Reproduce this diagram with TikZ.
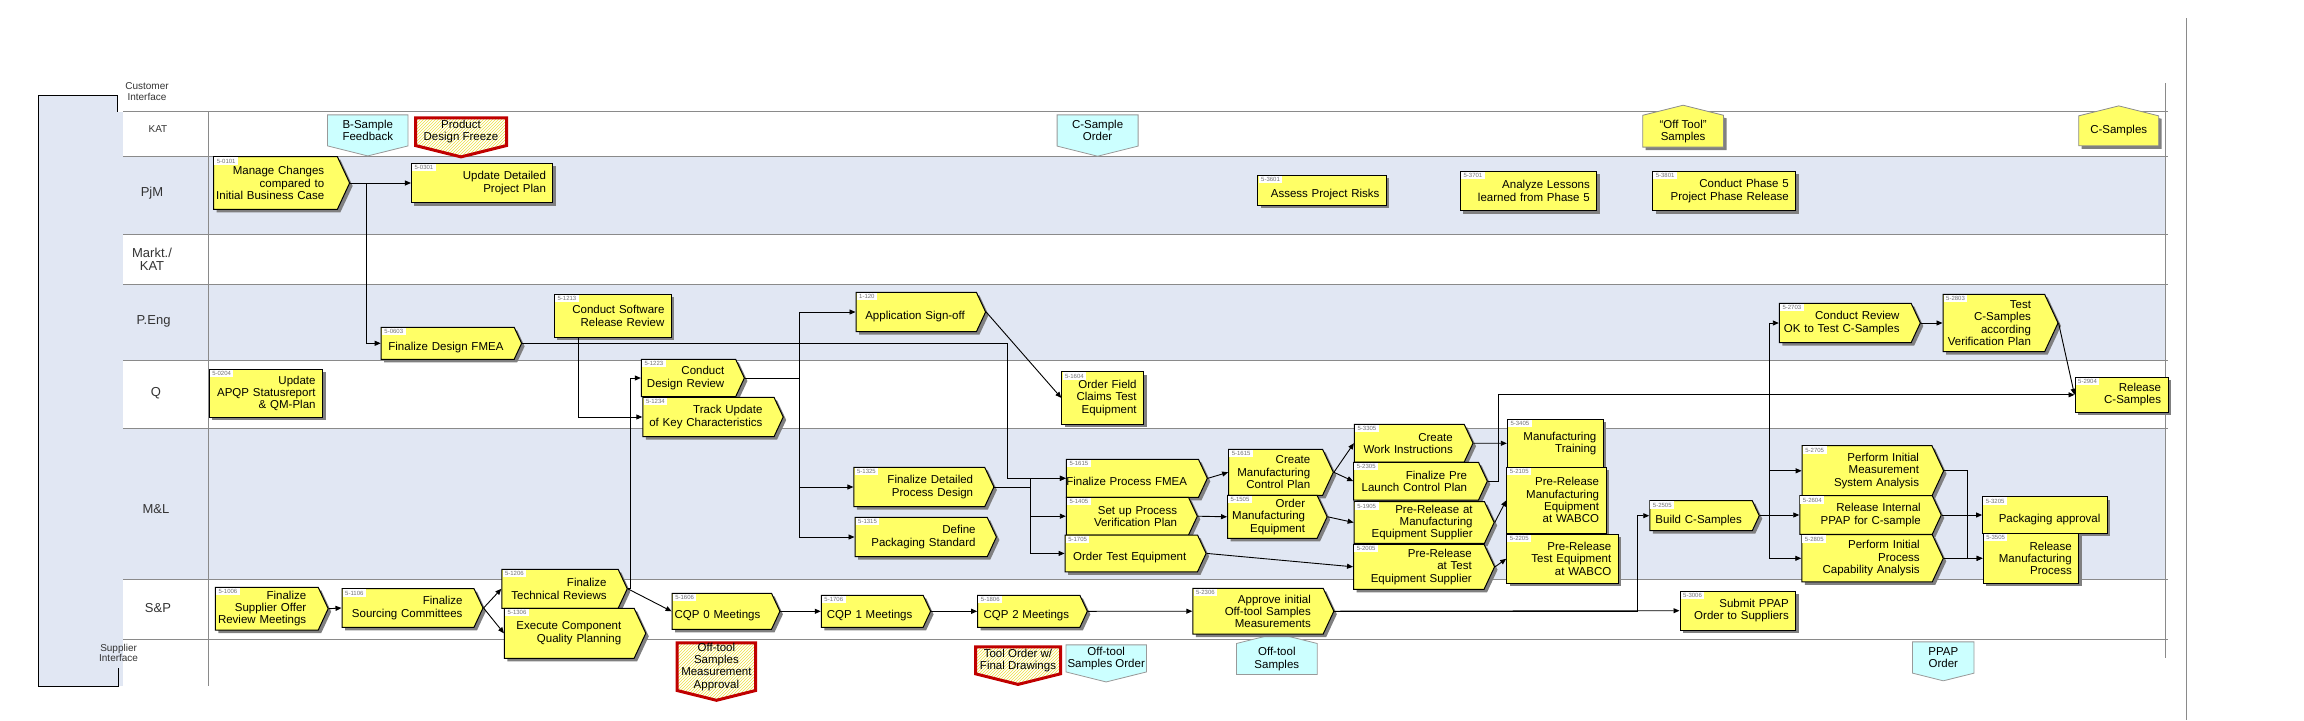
\documentclass[tikz,border=0pt]{standalone}
\usepackage{fontspec}
\setmainfont{Liberation Sans}
\usetikzlibrary{shapes.symbols,shadows,patterns,arrows.meta}

\definecolor{laneblue}{HTML}{E1E7F3}
\definecolor{taskyellow}{HTML}{FFFF66}
\definecolor{mscyan}{HTML}{CCFFFF}
\definecolor{msred}{HTML}{C00000}
\definecolor{laneline}{HTML}{8A8A8A}
\definecolor{hatch}{HTML}{EEE040}

\begin{document}
\begin{tikzpicture}[x=1pt, y=-1pt,
  box/.style={draw=black, line width=1pt, fill=taskyellow, inner sep=0pt, align=right,
    font=\fontsize{11.5}{12.3}\selectfont,
    execute at begin node={\leftskip=0pt plus 1fil minus 80pt\hyphenpenalty=10000},
    drop shadow={opacity=1, fill=black!50, shadow xshift=3pt, shadow yshift=-3pt}},
  sig/.style 2 args={box, shape=signal, signal to=east, signal pointer angle=130,
    minimum width=#1, minimum height=#2,
    /utils/exec={\pgfmathsetlengthmacro\tw{#1-#2/2.145-14}}, text width=\tw},
  rct/.style 2 args={box, rectangle, minimum width=#1, minimum height=#2,
    /utils/exec={\pgfmathsetlengthmacro\tw{#1-14}}, text width=\tw},
  one/.style={text height=15pt, text depth=0pt},
  ctr/.style={align=center, execute at begin node={\hyphenpenalty=10000}},
  id/.style={append after command={node[idtag] at (\tikzlastnode.west |- \tikzlastnode.north) {#1}}},
  idtag/.style={anchor=north west, fill=white, inner xsep=2.5pt, inner ysep=1.5pt,
    xshift=1pt, yshift=-1pt, text=black!55, font=\fontsize{6}{6}\selectfont},
  ms/.style 2 args={shape=signal, signal pointer angle=152, minimum width=#1, minimum height=#2,
    inner sep=0pt, align=center, font=\fontsize{11.5}{12.3}\selectfont},
  mscyanbox/.style={draw=black!40, line width=0.8pt, fill=mscyan},
  msredbox/.style={draw=msred, line width=3pt, preaction={fill=white}, pattern=north east lines, pattern color=hatch},
  msyelbox/.style={draw=black!45, line width=0.8pt, fill=taskyellow,
    drop shadow={opacity=1, fill=black!50, shadow xshift=3pt, shadow yshift=-3pt}},
  down/.style={signal to=south}, up/.style={signal to=north},
  arr/.style={draw, line width=0.9pt, -{Triangle[length=6pt,width=5pt]}},
  lane/.style={font=\fontsize{13}{13}\selectfont, text=black!80, align=center},
  iface/.style={font=\fontsize{10}{10.5}\selectfont, text=black!80, align=center}]
\useasboundingbox (0,0) rectangle (2304,720);

% frame and lanes
\fill[laneblue] (38,95) rectangle (117,112);
\fill[laneblue] (38,112) rectangle (123,686);
\draw[line width=1pt] (117,111.7) -- (117,95) -- (38,95) -- (38,686) -- (118,686) -- (118,668);
\fill[laneblue] (123,156.7) rectangle (2165,234);
\fill[laneblue] (123,284.3) rectangle (2165,360);
\fill[laneblue] (123,428.3) rectangle (2165,579.3);
\foreach \y in {111.7,156.7,234,284.3,360,428.3,579.3,639}
  \draw[laneline, line width=1pt] (123,\y) -- (2168,\y);
\draw[laneline, line width=1pt] (208,111.7) -- (208,686);
\draw[laneline, line width=1pt] (2165,83.3) -- (2165,658);
\draw[laneline, line width=1pt] (2186,18) -- (2186,720);

% lane labels
\node[iface] (lcust) at (147,91.7) {Customer\\Interface};
\node[iface] (lkat) at (158,129) {KAT};
\node[lane] (lpjm) at (152,193.3) {PjM};
\node[lane] (lmarkt) at (152,259) {Markt./\\KAT};
\node[lane] (lpeng) at (153.6,321.7) {P.Eng};
\node[lane] (lq) at (156,393.3) {Q};
\node[lane] (lml) at (156,509.3) {M\&L};
\node[lane] (lsp) at (158,608.3) {S\&P};
\node[iface] (lsupp) at (118.6,652.7) {Supplier\\Interface};

% milestones
\node[ms={80.5}{37.3}, mscyanbox, down] (mbfb) at (367.8,130.4) {B-Sample\\Feedback};
\node[ms={91}{37}, msredbox, down] (mpdf) at (461,131.7) {Product\\Design Freeze};
\node[ms={81}{37.6}, mscyanbox, down] (mcso) at (1097.6,130.5) {C-Sample\\Order};
\node[ms={80.8}{37.7}, msyelbox, up] (mots) at (1683.1,131.2) {“Off Tool”\\Samples};
\node[ms={80}{37}, msyelbox, up] (mcs) at (2118.7,130.8) {C-Samples};
\node[ms={78.4}{50.3}, msredbox, down] (mosma) at (716.4,666.7) {Off-tool\\Samples\\Measurement\\Approval};
\node[ms={85}{36.3}, msredbox, down] (mtofd) at (1018,660.4) {Tool Order w/\\Final Drawings};
\node[ms={80.4}{36.7}, mscyanbox, down] (moso) at (1106.2,658.4) {Off-tool\\Samples Order};
\node[ms={80.7}{36.6}, mscyanbox, up] (mos) at (1276.8,659) {Off-tool\\Samples};
\node[ms={61.5}{35}, mscyanbox, down] (mppap) at (1943.3,657.5) {PPAP\\Order};

% tasks
\node[sig={136}{52.6}, id=5-0101] (n0101) at (275.5,183) {Manage Changes\\compared to\\Initial Business Case};
\node[rct={141.5}{39.4}, id=5-0301] (n0301) at (482.2,183) {Update Detailed\\Project Plan};
\node[sig={140.4}{32}, one, id=5-0603] (n0603) at (447.7,343.3) {Finalize Design FMEA};
\node[rct={113.5}{48}, id=5-0204] (n0204) at (265.8,393.3) {Update\\APQP Statusreport\\\& QM-Plan};
\node[sig={112.8}{42.7}, id=5-1006] (n1006) at (266.8,608.7) {Finalize\\Supplier Offer\\Review Meetings};
\node[sig={141}{38.6}, id=5-1106] (n1106) at (408,608) {Finalize\\Sourcing Committees};
\node[sig={125.4}{39}, id=5-1206] (n1206) at (560,588.8) {Finalize\\Technical Reviews};
\node[sig={141.3}{50}, id=5-1306] (n1306) at (569.3,633.3) {Execute Component\\Quality Planning};
\node[rct={117}{43}, id=5-1213] (n1213) at (612.9,315.8) {Conduct Software\\Release Review};
\node[sig={103}{37.4}, id=5-1223] (n1223) at (688.5,378) {Conduct\\Design Review};
\node[sig={140.4}{39.4}, id=5-1234] (n1234) at (708.4,417) {Track Update\\of Key Characteristics};
\node[sig={129.6}{39.4}, one, id=1-120] (n120) at (916.2,312) {Application Sign-off};
\node[sig={140}{39.4}, id=5-1325] (n1325) at (919.3,487) {Finalize Detailed\\Process Design};
\node[sig={141.4}{39.4}, id=5-1315] (n1315) at (921.1,537) {Define\\Packaging Standard};
\node[sig={107.8}{36}, one, id=5-1606] (n1606) at (721.8,611.3) {CQP 0 Meetings};
\node[sig={109.3}{32}, one, id=5-1706] (n1706) at (872.2,611.3) {CQP 1 Meetings};
\node[sig={109.6}{32}, one, id=5-1806] (n1806) at (1028.8,611.3) {CQP 2 Meetings};
\node[rct={81.8}{52.3}, ctr, id=5-1604] (n1604) at (1102.7,397.9) {Order Field\\Claims Test\\Equipment};
\node[sig={141}{38}, one, id=5-1615] (n1615) at (1132.4,478.3) {Finalize Process FMEA};
\node[sig={131}{37.7}, id=5-1405] (n1405) at (1127.4,516.2) {Set up Process\\Verification Plan};
\node[sig={141}{36.7}, one, id=5-1705] (n1705) at (1131.3,553.4) {Order Test Equipment};
\node[sig={104.7}{46}, id=5-1615] (n1615c) at (1275.6,472.3) {Create\\Manufacturing\\Control Plan};
\node[sig={99.6}{43}, id=5-1505] (n1505) at (1272.3,516.8) {Order\\Manufacturing\\Equipment};
\node[sig={118.6}{37.7}, id=5-3305] (n3305) at (1409.3,443.2) {Create\\Work Instructions};
\node[sig={133.6}{37.7}, id=5-2305] (n2305) at (1416.1,481.2) {Finalize Pre\\Launch Control Plan};
\node[sig={140}{41.6}, id=5-1905] (n1905) at (1419.3,522.5) {Pre-Release at\\Manufacturing\\Equipment Supplier};
\node[sig={141}{45}, id=5-2005] (n2005) at (1418.8,566.8) {Pre-Release\\at Test\\Equipment Supplier};
\node[sig={141}{45.7}, id=5-2306] (n2306) at (1258,611.2) {Approve initial\\Off-tool Samples\\Measurements};
\node[rct={128.5}{30}, one, id=5-3601] (n3601) at (1322.2,190.3) {Assess Project Risks};
\node[rct={136.4}{39.4}, id=5-3701] (n3701) at (1528.6,191) {Analyze Lessons\\learned from Phase 5};
\node[rct={143.3}{39.4}, id=5-3801] (n3801) at (1724.2,191) {Conduct Phase 5\\Project Phase Release};
\node[rct={96}{48}, id=5-3405] (n3405) at (1555.3,443.3) {Manufacturing\\Training};
\node[rct={99.3}{66}, id=5-2105] (n2105) at (1556.4,500.3) {Pre-Release\\Manufacturing\\Equipment\\at WABCO};
\node[rct={111.6}{49}, id=5-2205] (n2205) at (1562.5,558.8) {Pre-Release\\Test Equipment\\at WABCO};
\node[sig={109.5}{30}, one, id=5-2505] (n2505) at (1701,515.7) {Build C-Samples};
\node[rct={115.8}{38.7}, id=5-3006] (n3006) at (1737.9,610.7) {Submit PPAP\\Order to Suppliers};
\node[sig={141}{39.4}, id=5-2703] (n2703) at (1845.2,323) {Conduct Review\\OK to Test C-Samples};
\node[sig={115}{57.4}, id=5-2803] (n2803) at (1993.8,323) {Test\\C-Samples\\according\\Verification Plan};
\node[rct={93}{35}, id=5-2904] (n2904) at (2121.5,394.8) {Release\\C-Samples};
\node[sig={141.5}{50.3}, id=5-2705] (n2705) at (1867,470.8) {Perform Initial\\Measurement\\System Analysis};
\node[sig={141.5}{38.6}, id=5-2604] (n2604) at (1866,515) {Release Internal\\PPAP for C-sample};
\node[sig={141.5}{47.3}, id=5-2805] (n2805) at (1867,558.3) {Perform Initial\\Process\\Capability Analysis};
\node[rct={124.8}{36.6}, one, id=5-3205] (n3205) at (2045,515) {Packaging approval};
\node[rct={95.7}{50}, id=5-3505] (n3505) at (2030.9,558.3) {Release\\Manufacturing\\Process};

% connectors
\draw[arr] (n0101.east) -- (n0301.west);
\draw[arr] (n0101.east) -- ++(16.4,0) |- (n0603.west);
\draw[arr] (n0603.east) -- ++(485.3,0) |- (n1615.west);
\draw[arr] ([xshift=-34.7pt]n1213.south) |- (n1234.west);
\draw[arr] (n1206.east) -- ++(3,0) |- (n1223.west);
\draw[arr] (n1206.east) -- (n1606.west);
\draw[arr] (n1006.east) -- (n1106.west);
\draw[arr] (n1106.east) -- (n1206.west);
\draw[arr] (n1106.east) -- (n1306.west);
\draw[arr] (n1606.east) -- (n1706.west);
\draw[arr] (n1706.east) -- (n1806.west);
\draw[arr] (n1806.east) -- (n2306.west);
\draw[arr] (n1223.east) -- ++(54.6,0) |- (n120.west);
\draw[arr] (n1223.east) -- ++(54.6,0) |- (n1325.west);
\draw[arr] (n1223.east) -- ++(54.6,0) |- (n1315.west);
\draw[arr] (n120.east) -- (n1604.west);
\draw[arr] (n1325.east) -- ++(35.7,0) |- (n1615.west);
\draw[arr] (n1325.east) -- ++(35.7,0) |- (n1405.west);
\draw[arr] (n1325.east) -- ++(35.7,0) |- (n1705.west);
\draw[arr] (n1615.east) -- (n1615c.west);
\draw[arr] (n1405.east) -- (n1505.west);
\draw[arr] (n1705.east) -- (n2005.west);
\draw[arr] (n1615c.east) -- (n3305.west);
\draw[arr] (n1615c.east) -- (n2305.west);
\draw[arr] (n1505.east) -- (n1905.west);
\draw[arr] (n3305.east) -- (n3405.west);
\draw[arr] (n1905.east) -- (n2105.west);
\draw[arr] (n2005.east) -- (n2205.west);
\draw[arr] (n2305.east) -- ++(10.7,0) |- (n2904.west);
\draw[arr] (n2306.east) -- (n3006.west);
\draw[arr] (n2306.east) -- ++(303.1,0) |- (n2505.west);
\draw[arr] (n2505.east) -- ++(9.4,0) |- (n2703.west);
\draw[arr] (n2505.east) -- ++(9.4,0) |- (n2705.west);
\draw[arr] (n2505.east) -- ++(9.4,0) |- (n2604.west);
\draw[arr] (n2505.east) -- ++(9.4,0) |- (n2805.west);
\draw[arr] (n2703.east) -- (n2803.west);
\draw[arr] (n2803.east) -- (n2904.west);
\draw[arr] (n2705.east) -- ++(22.9,0) |- (n3505.west);
\draw[arr] (n2604.east) -- (n3205.west);
\draw[arr] (n2805.east) -- (n3505.west);
\end{tikzpicture}
\end{document}
